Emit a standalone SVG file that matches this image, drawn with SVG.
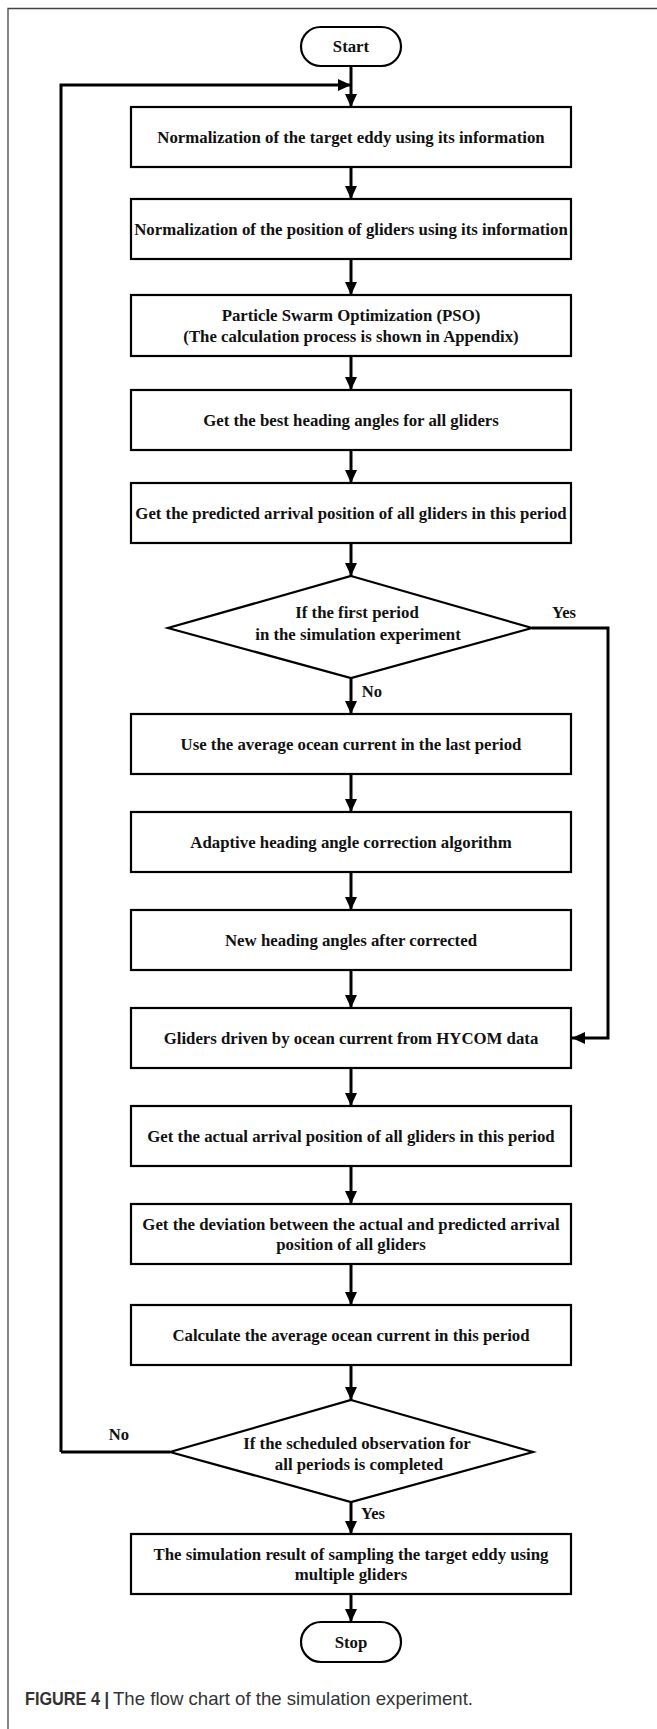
<svg xmlns="http://www.w3.org/2000/svg" width="657" height="1729" viewBox="0 0 657 1729">
<defs>
<marker id="ah" markerWidth="13" markerHeight="12" refX="13" refY="6" orient="auto" markerUnits="userSpaceOnUse">
<path d="M0,0 L13,6 L0,12 Z" fill="#000"/>
</marker>
<style>
.box{fill:#fff;stroke:#000;stroke-width:2.2}
.t{font-family:"Liberation Serif","Times New Roman",serif;font-weight:bold;font-size:16.8px;fill:#111;text-anchor:middle}
.lbl{font-family:"Liberation Serif","Times New Roman",serif;font-weight:bold;font-size:16.6px;fill:#111;text-anchor:middle}
.c{fill:none;stroke:#000;stroke-width:3}
.ca{fill:none;stroke:#000;stroke-width:3;marker-end:url(#ah)}
.cap{font-family:"Liberation Sans",Arial,sans-serif;font-size:18.5px;fill:#333}
</style>
</defs>
<rect width="657" height="1729" fill="#fff"/>
<path d="M8,1729 V8.5 H657" fill="none" stroke="#444" stroke-width="1.3"/>

<g id="connectors">
<path class="ca" d="M351,66 V107"/>
<path class="ca" d="M61,1452 V85 H351"/>
<path class="ca" d="M351,167 V199"/>
<path class="ca" d="M351,259 V295"/>
<path class="ca" d="M351,356 V390"/>
<path class="ca" d="M351,450 V483"/>
<path class="ca" d="M351,543 V576"/>
<path class="ca" d="M351,678 V714"/>
<path class="ca" d="M351,774 V812"/>
<path class="ca" d="M351,872 V910"/>
<path class="ca" d="M351,970 V1008"/>
<path class="ca" d="M532,628 H608 V1038 H572"/>
<path class="ca" d="M351,1068 V1106"/>
<path class="ca" d="M351,1166 V1204"/>
<path class="ca" d="M351,1264 V1305"/>
<path class="ca" d="M351,1365 V1400"/>
<path class="c" d="M170,1452 H61"/>
<path class="ca" d="M351,1502 V1534"/>
<path class="ca" d="M351,1594 V1622"/>
<text class="lbl" x="564" y="617.5">Yes</text>
<text class="lbl" x="372" y="696.5">No</text>
<text class="lbl" x="119" y="1439.5">No</text>
<text class="lbl" x="373" y="1518.5">Yes</text>
</g>

<g id="start">
<rect x="301" y="27" width="100" height="39" rx="19.5" class="box"/>
<text class="t" x="351" y="52">Start</text>
</g>
<g id="n1">
<rect x="131" y="107" width="440" height="60" class="box"/>
<text class="t" x="351" y="142.5">Normalization of the target eddy using its information</text>
</g>
<g id="n2">
<rect x="131" y="199" width="440" height="60" class="box"/>
<text class="t" x="351" y="234.5">Normalization of the position of gliders using its information</text>
</g>
<g id="n3">
<rect x="131" y="295" width="440" height="61" class="box"/>
<text class="t" x="351" y="320.5">Particle Swarm Optimization (PSO)</text>
<text class="t" x="351" y="341.5">(The calculation process is shown in Appendix)</text>
</g>
<g id="n4">
<rect x="131" y="390" width="440" height="60" class="box"/>
<text class="t" x="351" y="425.5">Get the best heading angles for all gliders</text>
</g>
<g id="n5">
<rect x="131" y="483" width="440" height="60" class="box"/>
<text class="t" x="351" y="518.5">Get the predicted arrival position of all gliders in this period</text>
</g>
<g id="d1">
<polygon points="351,576 532,628 351,678 168,628" class="box"/>
<text class="t" x="357" y="617.5">If the first period</text>
<text class="t" x="358" y="639.5">in the simulation experiment</text>
</g>
<g id="n6">
<rect x="131" y="714" width="440" height="60" class="box"/>
<text class="t" x="351" y="749.5">Use the average ocean current in the last period</text>
</g>
<g id="n7">
<rect x="131" y="812" width="440" height="60" class="box"/>
<text class="t" x="351" y="847.5">Adaptive heading angle correction algorithm</text>
</g>
<g id="n8">
<rect x="131" y="910" width="440" height="60" class="box"/>
<text class="t" x="351" y="945.5">New heading angles after corrected</text>
</g>
<g id="n9">
<rect x="131" y="1008" width="440" height="60" class="box"/>
<text class="t" x="351" y="1043.5">Gliders driven by ocean current from HYCOM data</text>
</g>
<g id="n10">
<rect x="131" y="1106" width="440" height="60" class="box"/>
<text class="t" x="351" y="1141.5">Get the actual arrival position of all gliders in this period</text>
</g>
<g id="n11">
<rect x="131" y="1204" width="440" height="60" class="box"/>
<text class="t" x="351" y="1229.5">Get the deviation between the actual and predicted arrival</text>
<text class="t" x="351" y="1249.5">position of all gliders</text>
</g>
<g id="n12">
<rect x="131" y="1305" width="440" height="60" class="box"/>
<text class="t" x="351" y="1340.5">Calculate the average ocean current in this period</text>
</g>
<g id="d2">
<polygon points="351,1400 533,1452 351,1502 170,1452" class="box"/>
<text class="t" x="357" y="1448.5">If the scheduled observation for</text>
<text class="t" x="359" y="1469.5">all periods is completed</text>
</g>
<g id="n13">
<rect x="131" y="1534" width="440" height="60" class="box"/>
<text class="t" x="351" y="1559.5">The simulation result of  sampling the target eddy using</text>
<text class="t" x="351" y="1579.5">multiple gliders</text>
</g>
<g id="stop">
<rect x="301" y="1622" width="100" height="40" rx="20" class="box"/>
<text class="t" x="351" y="1647.5">Stop</text>
</g>

<text class="cap" x="25" y="1705" font-weight="bold" fill="#111" textLength="84" lengthAdjust="spacingAndGlyphs">FIGURE 4 |</text>
<text class="cap" x="113" y="1705" textLength="360" lengthAdjust="spacingAndGlyphs">The flow chart of the simulation experiment.</text>
</svg>
